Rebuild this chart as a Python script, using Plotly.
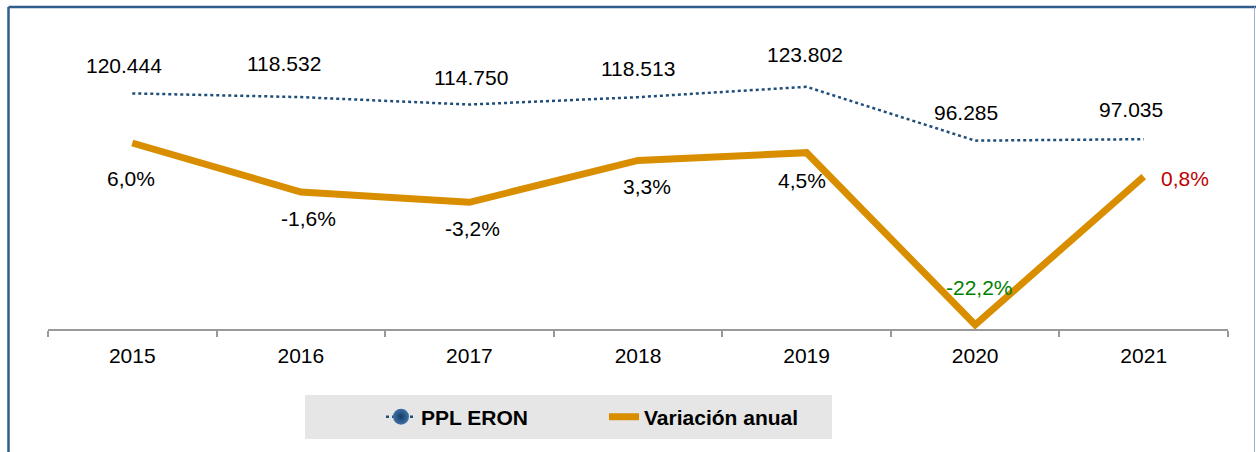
import plotly.graph_objects as go

years = ["2015", "2016", "2017", "2018", "2019", "2020", "2021"]
ppl_eron = [120444, 118532, 114750, 118513, 123802, 96285, 97035]
variacion = [6.0, -1.6, -3.2, 3.3, 4.5, -22.2, 0.8]

# label style (pixel nudges, colours)
ppl_dx = [-8, -17, 2, 0, -2, -9, -13]
ppl_dy = [28, 34, 27, 29, 32, 28, 30]
var_dx = [-1, 8, 3, 9, -5, 4, 41]
var_dy = [-35, -26, -26, -26, -28, 37, -2]
var_col = ["#000000"] * 5 + ["#008000", "#C00000"]

FONT = "Liberation Sans, Arial, sans-serif"
BLUE = "#1F4E79"
ORANGE = "#D98E00"
FS = 21

def fmt_int(v):
    return f"{v:,}".replace(",", ".")

def fmt_pct(v):
    return f"{v:.1f}".replace(".", ",") + "%"

fig = go.Figure()

fig.add_trace(go.Scatter(
    x=years, y=ppl_eron, mode="lines", name="PPL ERON", showlegend=False,
    line=dict(color=BLUE, width=2.5, dash="dot"), yaxis="y", legendgroup="ppl"))
fig.add_trace(go.Scatter(
    x=[None], y=[None], mode="lines+markers", name="PPL ERON", legendgroup="ppl",
    line=dict(color=BLUE, width=2.5, dash="dot"),
    marker=dict(size=16, color="#3F72A8", gradient=dict(type="radial", color="#153B63"),
                line=dict(width=0))))
fig.add_trace(go.Scatter(
    x=years, y=variacion, mode="lines", name="Variación anual",
    line=dict(color=ORANGE, width=7), yaxis="y2"))

ann = []
for i in range(len(years)):
    ann.append(dict(x=i, y=ppl_eron[i], xref="x", yref="y", text=fmt_int(ppl_eron[i]),
                    showarrow=False, xshift=ppl_dx[i], yshift=ppl_dy[i],
                    font=dict(family=FONT, size=FS, color="#000000")))
    ann.append(dict(x=i, y=variacion[i], xref="x", yref="y2", text=fmt_pct(variacion[i]),
                    showarrow=False, xshift=var_dx[i], yshift=var_dy[i],
                    font=dict(family=FONT, size=FS, color=var_col[i])))

L, R, T, B = 48, 1228, 16, 329
W, H = R - L, B - T
def px(xp):
    return (xp - L) / W
def py(yp):
    return (B - yp) / H

shapes = [
    # legend box
    dict(type="rect", xref="paper", yref="paper", x0=px(305), x1=px(832), y0=py(439), y1=py(395),
         fillcolor="#E6E6E6", line=dict(width=0), layer="below"),
    # outer frame
    dict(type="line", xref="paper", yref="paper", x0=px(8.5), x1=px(1256), y0=py(7), y1=py(7),
         line=dict(color="#2F5E8C", width=2.5)),
    dict(type="line", xref="paper", yref="paper", x0=px(8.5), x1=px(8.5), y0=py(7), y1=py(470),
         line=dict(color="#2F5E8C", width=2.5)),
    dict(type="line", xref="paper", yref="paper", x0=px(1254.5), x1=px(1254.5), y0=py(7), y1=py(470),
         line=dict(color="#9FB0C4", width=1)),
]

fig.update_layout(
    width=1256, height=452,
    margin=dict(l=L, r=1256 - R, t=T, b=452 - B, pad=0),
    paper_bgcolor="white", plot_bgcolor="white",
    font=dict(family=FONT, size=FS, color="#000000"),
    xaxis=dict(type="category", range=[-0.5, 6.5], showgrid=False, zeroline=False,
               showline=True, linecolor="#999999", linewidth=1.5,
               ticks="outside", tickson="boundaries", ticklen=6, tickcolor="#999999", tickwidth=1.5,
               tickfont=dict(family=FONT, size=FS, color="#000000"), ticklabelstandoff=7),
    yaxis=dict(range=[0, 160000], visible=False, showgrid=False, zeroline=False),
    yaxis2=dict(range=[-22.85, 25.7], visible=False, overlaying="y", side="right",
                showgrid=False, zeroline=False),
    showlegend=True,
    legend=dict(orientation="h", x=px(381), xanchor="left", y=py(417), yanchor="middle",
                bgcolor="rgba(0,0,0,0)", borderwidth=0, entrywidth=178, entrywidthmode="pixels",
                font=dict(family=FONT, size=FS, color="#000000", weight="bold"),
                itemsizing="trace"),
    annotations=ann, shapes=shapes,
)

fig.write_html("out.html", config={"displayModeBar": False},
               post_script="document.body.style.margin='0';")
